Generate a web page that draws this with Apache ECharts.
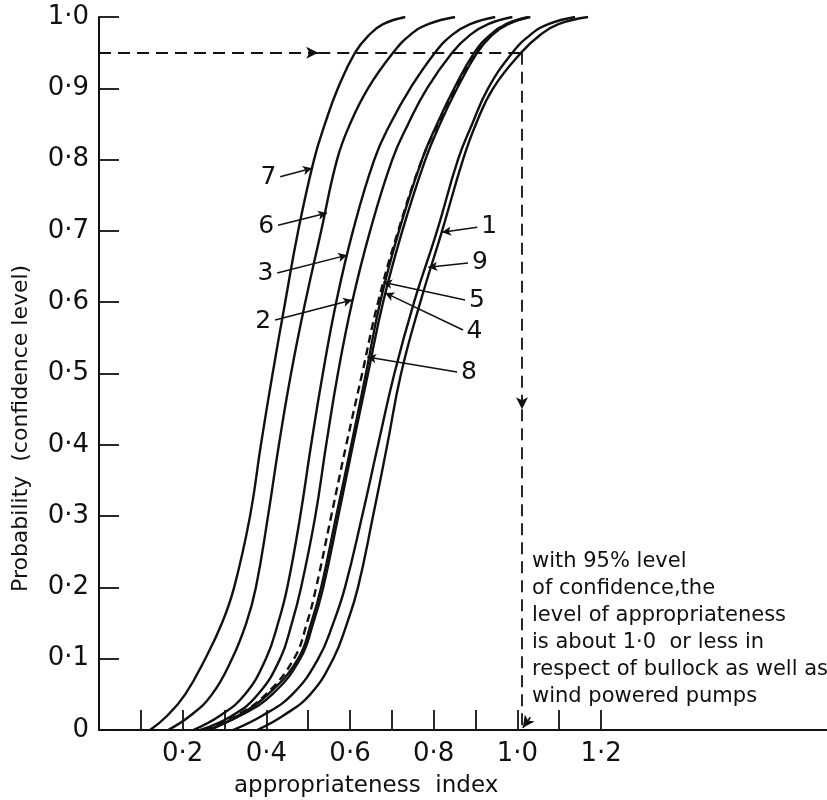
<!DOCTYPE html>
<html>
<head>
<meta charset="utf-8">
<script src="https://cdn.jsdelivr.net/npm/echarts@6/dist/echarts.min.js"></script>
<style>
html,body{margin:0;padding:0;background:#fff;}
#chart{width:827px;height:800px;}
</style>
</head>
<body>
<div id="chart"></div>
<script>
// ---- data ----
const probLevels = [0, 0.02, 0.05, 0.1, 0.15, 0.2, 0.3, 0.4, 0.5, 0.6, 0.7, 0.8, 0.85, 0.9, 0.95, 0.975, 0.99, 1.0];
const curve1 = [0.378, 0.440, 0.505, 0.560, 0.593, 0.619, 0.655, 0.689, 0.722, 0.768, 0.820, 0.870, 0.901, 0.942, 1.009, 1.055, 1.098, 1.169];
const curve2 = [0.242, 0.318, 0.380, 0.433, 0.461, 0.483, 0.517, 0.543, 0.571, 0.605, 0.648, 0.701, 0.739, 0.784, 0.844, 0.887, 0.930, 0.988];
const curve3 = [0.225, 0.289, 0.349, 0.399, 0.428, 0.450, 0.481, 0.507, 0.535, 0.567, 0.607, 0.658, 0.696, 0.744, 0.803, 0.844, 0.887, 0.947];
const curve4 = [0.258, 0.337, 0.414, 0.481, 0.512, 0.536, 0.572, 0.607, 0.643, 0.679, 0.725, 0.780, 0.815, 0.856, 0.904, 0.940, 0.978, 1.031];
const curve5 = [0.265, 0.332, 0.404, 0.476, 0.507, 0.531, 0.567, 0.603, 0.638, 0.672, 0.717, 0.772, 0.808, 0.849, 0.897, 0.935, 0.973, 1.026];
const curve6 = [0.165, 0.218, 0.270, 0.318, 0.352, 0.375, 0.404, 0.430, 0.459, 0.493, 0.531, 0.569, 0.600, 0.643, 0.703, 0.744, 0.787, 0.851];
const curve7 = [0.122, 0.163, 0.206, 0.254, 0.294, 0.323, 0.361, 0.387, 0.415, 0.445, 0.476, 0.514, 0.540, 0.571, 0.612, 0.646, 0.679, 0.732];
const curve8 = [0.253, 0.328, 0.399, 0.466, 0.497, 0.519, 0.555, 0.591, 0.629, 0.667, 0.715, 0.772, 0.810, 0.852, 0.900, 0.937, 0.975, 1.028];
const curve9 = [0.320, 0.390, 0.462, 0.524, 0.560, 0.588, 0.629, 0.667, 0.706, 0.753, 0.808, 0.858, 0.892, 0.930, 0.988, 1.031, 1.074, 1.138];

const curveNames = ['1','2','3','4','5','6','7','8','9'];
const curveValues = [curve1, curve2, curve3, curve4, curve5, curve6, curve7, curve8, curve9];

const xTickValues = [0.1,0.2,0.3,0.4,0.5,0.6,0.7,0.8,0.9,1.0,1.1,1.2];
const xLabelValues = [0.2,0.4,0.6,0.8,1.0,1.2];

// label arrows for each curve: [start, tip] in data units
const labelArrowStart = {
  '1':[0.904,0.705], '2':[0.421,0.575], '3':[0.426,0.641], '4':[0.870,0.561],
  '5':[0.875,0.603], '6':[0.428,0.708], '7':[0.433,0.776], '8':[0.856,0.502], '9':[0.882,0.655]
};
const labelArrowTip = {
  '1':[0.820,0.698], '2':[0.605,0.603], '3':[0.593,0.666], '4':[0.684,0.613],
  '5':[0.679,0.628], '6':[0.545,0.725], '7':[0.509,0.788], '8':[0.641,0.523], '9':[0.787,0.649]
};

// 95 % confidence guide
const confidenceLevel = 0.95;
const indexAtConfidence = 1.011;
const guideArrowX = 0.524;
const guideArrowY = 0.45;

const noteLines = [
  'with 95% level',
  'of confidence,the',
  'level of appropriateness',
  'is about 1·0  or less in',
  'respect of bullock as well as',
  'wind powered pumps'
];
const noteAnchor = [1.035, 0.2546];

const fmt = v => (Math.abs(v) < 1e-9 ? '0' : v.toFixed(1).replace('.', '·'));
const FONT = 'DejaVu Sans';
const INK = '#111';

const chart = echarts.init(document.getElementById('chart'), null, {renderer:'canvas'});

const curveSeries = curveNames.map((name, i) => ({
  name: name,
  type: 'line',
  data: curveValues[i].map((x, k) => [x, probLevels[k]]),
  smooth: 0.45,
  showSymbol: false,
  symbol: 'none',
  lineStyle: { color: INK, width: 2.4, type: name === '8' ? [8, 5] : 'solid' },
  z: name === '8' ? 4 : 3,
  markLine: {
    silent: true,
    animation: false,
    symbol: ['none', 'arrow'],
    symbolSize: [7, 9],
    lineStyle: { color: INK, width: 1.5, type: 'solid' },
    label: {
      show: true, position: 'start', formatter: name, distance: 4,
      color: INK, fontSize: 25, fontFamily: FONT
    },
    data: [[{ coord: labelArrowStart[name] }, { coord: labelArrowTip[name] }]]
  }
}));

const guideSeries = {
  name: 'guide',
  type: 'line',
  data: [],
  markLine: {
    silent: true,
    animation: false,
    symbolSize: [9, 12],
    label: { show: false },
    lineStyle: { color: INK, width: 1.8, type: [12, 7] },
    data: [
      [{ coord: [0, confidenceLevel], symbol: 'none' }, { coord: [guideArrowX, confidenceLevel], symbol: 'arrow' }],
      [{ coord: [guideArrowX, confidenceLevel], symbol: 'none' }, { coord: [indexAtConfidence, confidenceLevel], symbol: 'none' }],
      [{ coord: [indexAtConfidence, confidenceLevel], symbol: 'none' }, { coord: [indexAtConfidence, guideArrowY], symbol: 'arrow' }],
      [{ coord: [indexAtConfidence, guideArrowY], symbol: 'none' }, { coord: [indexAtConfidence, 0], symbol: 'none' }],
      [{ coord: [1.031, 0.018], symbol: 'none', lineStyle: { type: 'solid', width: 1.6 } }, { coord: [indexAtConfidence + 0.002, 0.003], symbol: 'arrow' }],
      [{ yAxis: 1.0, symbol: 'none', lineStyle: { type: 'solid', width: 2.4 } }, { symbol: 'none' }]
    ]
  }
};

chart.setOption({
  animation: false,
  backgroundColor: '#fff',
  grid: { left: 99, right: 0, top: 17, bottom: 70, outerBoundsMode: 'none', containLabel: false },
  xAxis: {
    type: 'value', min: 0, max: 1.74,
    axisLine: { show: true, lineStyle: { color: INK, width: 2 } },
    axisTick: { show: true, inside: true, length: 20, customValues: xTickValues, lineStyle: { color: INK, width: 1.8 } },
    axisLabel: { show: true, customValues: xLabelValues, formatter: fmt, margin: 11, color: INK, fontSize: 26, fontFamily: FONT },
    splitLine: { show: false }
  },
  yAxis: {
    type: 'value', min: 0, max: 1, interval: 0.1,
    axisLine: { show: true, lineStyle: { color: INK, width: 2 } },
    axisTick: { show: true, inside: true, length: 20, lineStyle: { color: INK, width: 1.8 } },
    axisLabel: { show: true, formatter: fmt, margin: 10, color: INK, fontSize: 26, fontFamily: FONT },
    splitLine: { show: false }
  },
  series: curveSeries.concat([guideSeries])
});

const notePx = chart.convertToPixel({ gridIndex: 0 }, noteAnchor);
chart.setOption({
  graphic: [
    {
      type: 'text', x: notePx[0], y: notePx[1],
      style: { text: noteLines.join('\n'), font: '21px "' + FONT + '"', fill: INK, lineHeight: 27, textVerticalAlign: 'top' }
    },
    {
      type: 'text', x: 234, y: 786,
      style: { text: 'appropriateness  index', font: '23px "' + FONT + '"', fill: INK, textAlign: 'left', textVerticalAlign: 'middle' }
    },
    {
      type: 'text', x: 21, y: 592, rotation: Math.PI / 2,
      style: { text: 'Probability  (confidence level)', font: '22px "' + FONT + '"', fill: INK, textAlign: 'left', textVerticalAlign: 'middle' }
    }
  ]
});
</script>
</body>
</html>
